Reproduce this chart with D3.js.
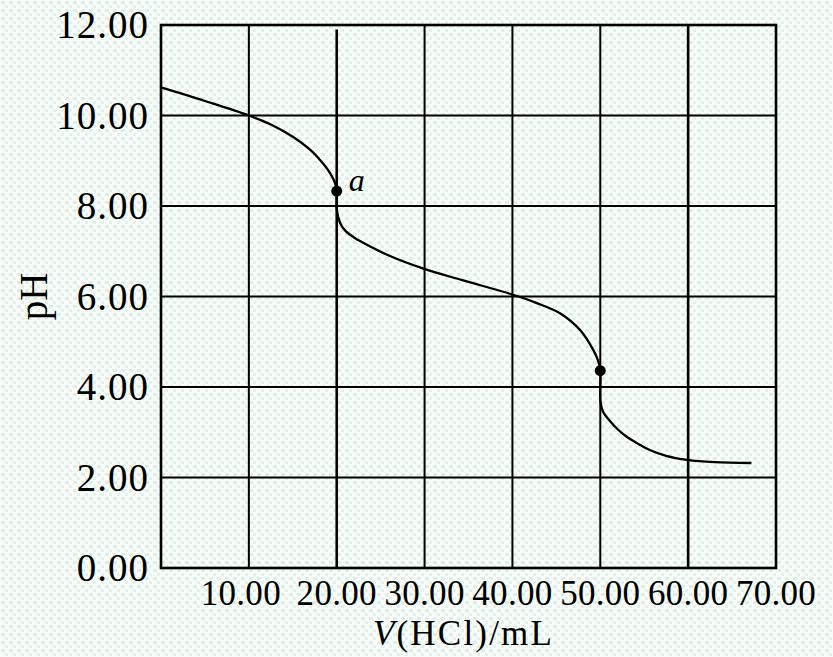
<!DOCTYPE html>
<html>
<head>
<meta charset="utf-8">
<script src="https://cdn.jsdelivr.net/npm/d3@7"></script>
<style>
  body { margin: 0; background: #fff; }
  svg { display: block; }
  text { font-family: "Liberation Serif", "DejaVu Serif", serif; fill: #000; }
</style>
</head>
<body>
<div id="chart"></div>
<script>
// titration curve
var volume = [0, 5, 10, 12.5, 15, 17, 18, 19, 19.6, 19.9, 20, 20.02, 20.4, 21, 22, 22.9, 26, 29.8, 34.3, 39.9, 42.7, 45.5, 47.7, 49.2, 49.75, 50, 50.02, 50.3, 51.1, 52, 53, 54.1, 55.5, 57.5, 59.9, 63, 67.2];
var pH     = [10.62, 10.32, 10.0, 9.8, 9.53, 9.24, 9.04, 8.8, 8.6, 8.45, 8.33, 7.9, 7.62, 7.45, 7.3, 7.2, 6.9, 6.62, 6.36, 6.05, 5.86, 5.62, 5.26, 4.82, 4.58, 4.36, 3.68, 3.46, 3.25, 3.06, 2.9, 2.77, 2.62, 2.48, 2.39, 2.34, 2.32];

var markVolume = [20, 50];
var markPH = [8.33, 4.36];
var markLabel = ["a", ""];

var xTicks = [10, 20, 30, 40, 50, 60, 70];
var yTicks = [0, 2, 4, 6, 8, 10, 12];

var margin = {top: 25, right: 57, bottom: 89, left: 161}
    , width = 833 - margin.left - margin.right
    , height = 657 - margin.top - margin.bottom;

var svgRoot = d3.select("#chart").append("svg")
    .attr("width", 833)
    .attr("height", 657);

// speckled paper background
var pat = svgRoot.append("defs").append("pattern")
    .attr("id", "paper")
    .attr("width", 8).attr("height", 8)
    .attr("patternUnits", "userSpaceOnUse");
pat.append("rect").attr("width", 8).attr("height", 8).attr("fill", "#f9fcfa");
pat.append("rect").attr("x", 1).attr("y", 1).attr("width", 4).attr("height", 3).attr("fill", "#ddefe3");
pat.append("rect").attr("x", 5).attr("y", 5).attr("width", 3).attr("height", 3).attr("fill", "#e3f2e7");

svgRoot.append("rect")
    .attr("width", 833).attr("height", 657)
    .attr("fill", "url(#paper)");

var svg = svgRoot.append("g")
    .attr("transform", "translate(" + margin.left + "," + margin.top + ")");

var x = d3.scaleLinear().domain([0, 70]).range([0, width]);
var y = d3.scaleLinear().domain([0, 12]).range([height, 0]);

// grid
svg.selectAll(".vgrid")
    .data(xTicks.filter(function (d) { return d > 0 && d < 70; }))
    .enter().append("line")
    .attr("x1", function (d) { return x(d); })
    .attr("x2", function (d) { return x(d); })
    .attr("y1", function (d) { return d === 20 ? y(11.9) : 0; })
    .attr("y2", height)
    .attr("stroke", "#000")
    .attr("stroke-width", function (d) { return d === 20 || d === 60 ? 2.6 : 2; });

svg.selectAll(".hgrid")
    .data(yTicks.filter(function (d) { return d > 0 && d < 12; }))
    .enter().append("line")
    .attr("x1", 0)
    .attr("x2", width)
    .attr("y1", function (d) { return y(d); })
    .attr("y2", function (d) { return y(d); })
    .attr("stroke", "#000")
    .attr("stroke-width", 2);

// frame
svg.append("rect")
    .attr("width", width).attr("height", height)
    .attr("fill", "none")
    .attr("stroke", "#000")
    .attr("stroke-width", 2.6);

// tick labels
svg.selectAll(".xlab")
    .data(xTicks)
    .enter().append("text")
    .attr("x", function (d) { return x(d) + (d === 10 ? -8 : 0); })
    .attr("y", height + 37)
    .attr("text-anchor", "middle")
    .style("font-size", "35px")
    .style("letter-spacing", "0.3px")
    .text(function (d) { return d3.format(".2f")(d); });

svg.selectAll(".ylab")
    .data(yTicks)
    .enter().append("text")
    .attr("x", -12)
    .attr("y", function (d) { return y(d); })
    .attr("dy", "0.34em")
    .attr("text-anchor", "end")
    .style("font-size", "39px")
    .style("letter-spacing", "1px")
    .text(function (d) { return d3.format(".2f")(d); });

// axis titles
var xt = svg.append("text")
    .attr("x", width / 2 - 5)
    .attr("y", height + 77)
    .attr("text-anchor", "middle")
    .style("font-size", "35px")
    .style("letter-spacing", "2.2px");
xt.append("tspan").style("font-style", "italic").text("V");
xt.append("tspan").text("(HCl)/mL");

svg.append("text")
    .attr("transform", "translate(-114," + y(6) + ") rotate(-90)")
    .attr("text-anchor", "middle")
    .style("font-size", "39px")
    .text("pH");

// curve
var line = d3.line()
    .x(function (d) { return x(d[0]); })
    .y(function (d) { return y(d[1]); })
    .curve(d3.curveCatmullRom.alpha(0.5));

svg.append("path")
    .datum(d3.zip(volume, pH))
    .attr("d", line)
    .attr("fill", "none")
    .attr("stroke", "#000")
    .attr("stroke-width", 2.3);

// marked points
var marks = d3.zip(markVolume, markPH, markLabel);
svg.selectAll(".dot")
    .data(marks)
    .enter().append("circle")
    .attr("cx", function (d) { return x(d[0]); })
    .attr("cy", function (d) { return y(d[1]); })
    .attr("r", 5.5)
    .attr("fill", "#000");

svg.selectAll(".mlab")
    .data(marks)
    .enter().append("text")
    .attr("x", function (d) { return x(d[0]) + 12; })
    .attr("y", function (d) { return y(d[1]) + 0; })
    .style("font-size", "32px")
    .style("font-style", "italic")
    .text(function (d) { return d[2]; });
</script>
</body>
</html>
